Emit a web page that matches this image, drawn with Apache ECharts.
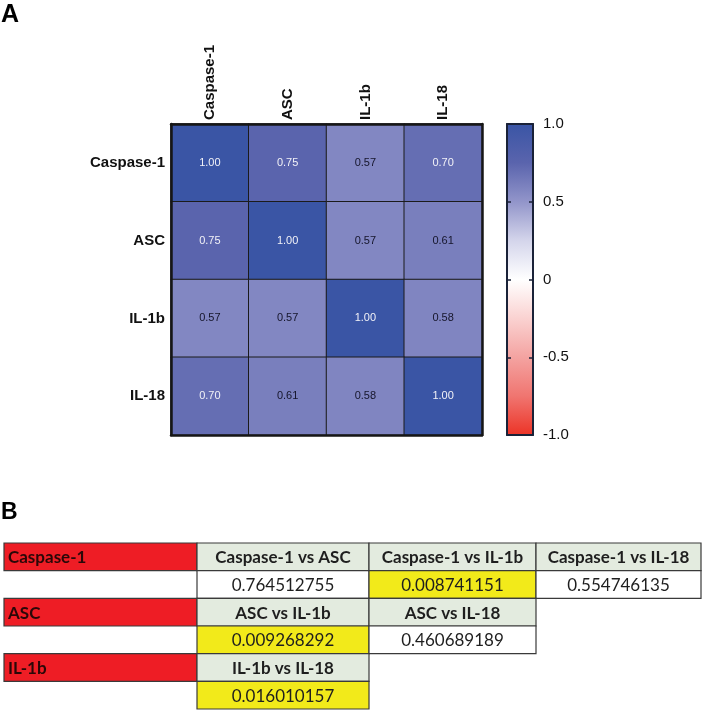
<!DOCTYPE html>
<html><head><meta charset="utf-8">
<script src="https://cdn.jsdelivr.net/npm/echarts@6/dist/echarts.min.js"></script>
<style>html,body{margin:0;padding:0;background:#fff}#c{width:702px;height:710px}</style>
</head><body><div id="c"></div>
<script>
// ---------- data ----------
const markers = ['Caspase-1', 'ASC', 'IL-1b', 'IL-18'];
const corrRows = [
  [1.00, 0.75, 0.57, 0.70],
  [0.75, 1.00, 0.57, 0.61],
  [0.57, 0.57, 1.00, 0.58],
  [0.70, 0.61, 0.58, 1.00]
];
const colorbarRange = [-1, 1];
const colorbarTicks = ['-1.0', '-0.5', '0', '0.5', '1.0'];
// p-values of pairwise comparisons (upper triangle, row by row)
const pValues = [
  [0.764512755, 0.008741151, 0.554746135],
  [0.009268292, 0.460689189],
  [0.016010157]
];
const sigLevel = 0.05;

// ---------- style / layout ----------
const scaleColors = ['#ec3427', '#f07570', '#f4a3a1', '#fad2d1', '#ffffff', '#d4d5eb', '#9295ca', '#5a64ad', '#3a55a5'];
const tableColWidths = [193, 172, 167, 165];
const tableFont = 'Lato';
const colors = { red: '#ee1d25', header: '#e3ebdf', yellow: '#f2ea1a', white: '#ffffff', border: '#3a3a3a' };

const chart = echarts.init(document.getElementById('c'), null, { renderer: 'canvas' });

// heatmap data
const heatData = [];
corrRows.forEach((row, r) => row.forEach((v, c) => {
  heatData.push({ value: [c, r, v], label: { color: v >= 0.65 ? '#f2f2f7' : '#15152a' } });
}));

// table cells
const tableCells = [];
pValues.forEach((vals, i) => {
  tableCells.push({ col: 0, row: 2 * i, text: markers[i], kind: 'red' });
  vals.forEach((p, k) => {
    const j = i + 1 + k;
    tableCells.push({ col: k + 1, row: 2 * i, text: markers[i] + ' vs ' + markers[j], kind: 'header' });
    tableCells.push({ col: k + 1, row: 2 * i + 1, text: p.toFixed(9), kind: p < sigLevel ? 'yellow' : 'white' });
  });
});
const colEdges = [0];
tableColWidths.forEach(w => colEdges.push(colEdges[colEdges.length - 1] + w));
const tableRows = pValues.length * 2;

const gradStops = scaleColors.slice().reverse().map((c, i, a) => ({ offset: i / (a.length - 1), color: c }));

const hidden = { show: false };
const frame = (color, width) => ({ show: true, onZero: false, lineStyle: { color, width } });
const option = {
  backgroundColor: '#fff',
  animation: false,
  title: [
    { text: 'A', left: 1, top: 3, padding: 0, textStyle: { fontSize: 25, fontWeight: 'bold', color: '#000', fontFamily: 'Liberation Sans' } },
    { text: 'B', left: 1, top: 501, padding: 0, textStyle: { fontSize: 23, fontWeight: 'bold', color: '#000', fontFamily: 'Liberation Sans' } }
  ],
  visualMap: {
    type: 'continuous', show: false, min: colorbarRange[0], max: colorbarRange[1],
    seriesIndex: 0, dimension: 2, inRange: { color: scaleColors }
  },
  grid: [
    { left: 171, top: 124, width: 311, height: 311 },
    { left: 507, top: 124, width: 26, height: 311 },
    { left: 4, top: 543, width: colEdges[colEdges.length - 1], height: 166 }
  ],
  xAxis: [
    { type: 'category', gridIndex: 0, data: markers, position: 'top', z: 10,
      axisLine: frame('#161616', 2.5), axisTick: hidden,
      axisLabel: { rotate: -90, fontSize: 15, fontWeight: 'bold', color: '#111', margin: 4, fontFamily: 'Liberation Sans' } },
    { type: 'category', gridIndex: 0, data: markers, position: 'bottom', z: 10,
      axisLine: frame('#161616', 2.5), axisTick: hidden, axisLabel: hidden },
    { type: 'value', gridIndex: 1, min: 0, max: 1, position: 'top', z: 10, splitLine: hidden,
      axisLine: frame('#1a2238', 2), axisTick: hidden, axisLabel: hidden },
    { type: 'value', gridIndex: 1, min: 0, max: 1, position: 'bottom', z: 10, splitLine: hidden,
      axisLine: frame('#1a2238', 2), axisTick: hidden, axisLabel: hidden },
    { type: 'value', gridIndex: 2, min: 0, max: colEdges[colEdges.length - 1], show: false }
  ],
  yAxis: [
    { type: 'category', gridIndex: 0, data: markers, inverse: true, position: 'left', z: 10,
      axisLine: frame('#161616', 2.5), axisTick: hidden,
      axisLabel: { fontSize: 15, fontWeight: 'bold', color: '#111', margin: 6, fontFamily: 'Liberation Sans' } },
    { type: 'category', gridIndex: 0, data: markers, inverse: true, position: 'right', z: 10,
      axisLine: frame('#161616', 2.5), axisTick: hidden, axisLabel: hidden },
    { type: 'value', gridIndex: 1, min: -1, max: 1, interval: 0.5, position: 'left', z: 10, splitLine: hidden,
      axisLine: frame('#1a2238', 2),
      axisTick: { show: true, inside: true, length: 4, lineStyle: { color: '#1a2238', width: 1.5 } }, axisLabel: hidden },
    { type: 'value', gridIndex: 1, min: -1, max: 1, interval: 0.5, position: 'right', z: 10, splitLine: hidden,
      axisLine: frame('#1a2238', 2),
      axisTick: { show: true, inside: true, length: 4, lineStyle: { color: '#1a2238', width: 1.5 } },
      axisLabel: { show: true, fontSize: 15, color: '#111', margin: 10, fontFamily: 'Liberation Sans',
        formatter: v => colorbarTicks[Math.round((v + 1) / 0.5)] } },
    { type: 'value', gridIndex: 2, min: 0, max: tableRows, inverse: true, show: false }
  ],
  series: [
    {
      type: 'heatmap', xAxisIndex: 0, yAxisIndex: 0, data: heatData,
      itemStyle: { borderColor: '#1b1b1b', borderWidth: 1 },
      label: { show: true, fontSize: 11, fontFamily: 'Liberation Sans', formatter: p => p.value[2].toFixed(2) },
      emphasis: { disabled: true }
    },
    {
      type: 'custom', xAxisIndex: 2, yAxisIndex: 2, data: [[0, colorbarRange[0], colorbarRange[1]]],
      renderItem: (params, api) => {
        const tl = api.coord([0, api.value(2)]);
        const br = api.coord([1, api.value(1)]);
        return { type: 'rect', shape: { x: tl[0], y: tl[1], width: br[0] - tl[0], height: br[1] - tl[1] },
          style: { fill: new echarts.graphic.LinearGradient(0, 0, 0, 1, gradStops) } };
      }
    },
    {
      type: 'custom', xAxisIndex: 4, yAxisIndex: 4,
      data: tableCells.map(c => [c.col, c.row]),
      renderItem: (params, api) => {
        const cell = tableCells[params.dataIndex];
        const tl = api.coord([colEdges[cell.col], cell.row]);
        const br = api.coord([colEdges[cell.col + 1], cell.row + 1]);
        const w = br[0] - tl[0], h = br[1] - tl[1];
        const isRed = cell.kind === 'red';
        const bold = isRed || cell.kind === 'header';
        return {
          type: 'group',
          children: [
            { type: 'rect', shape: { x: tl[0], y: tl[1], width: w, height: h },
              style: { fill: colors[cell.kind], stroke: colors.border, lineWidth: 1.2 } },
            { type: 'text', style: {
                text: cell.text,
                x: isRed ? tl[0] + 4 : tl[0] + w / 2,
                y: tl[1] + h / 2 + 1,
                textAlign: isRed ? 'left' : 'center', textVerticalAlign: 'middle',
                fontFamily: tableFont, fontSize: 17, fontWeight: bold ? 'bold' : 'normal',
                fill: isRed ? '#2a0808' : '#1e1e1e' } }
          ]
        };
      }
    }
  ]
};
chart.setOption(option);
</script></body></html>
